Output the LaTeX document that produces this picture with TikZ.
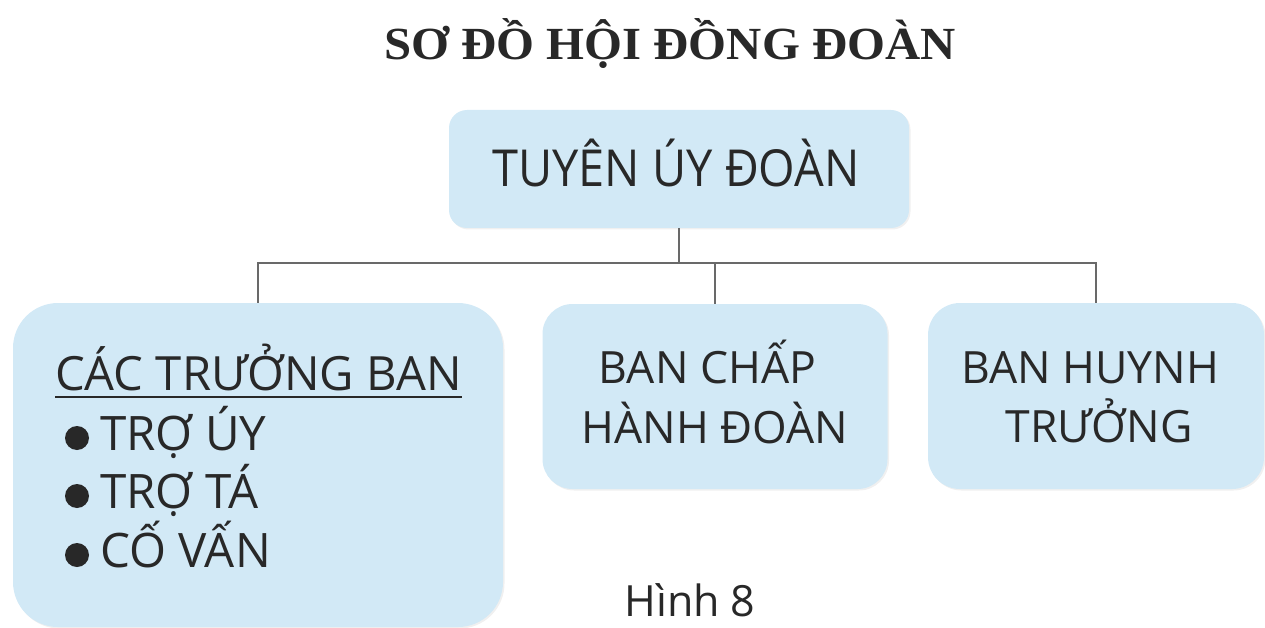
\documentclass[tikz,border=0pt]{standalone}
\usepackage{fontspec}
\setmainfont{Open Sans}
\newfontfamily\titlefont{Liberation Serif}
\usetikzlibrary{shadows}
\definecolor{boxfill}{RGB}{210,233,246}
\definecolor{txt}{RGB}{40,40,40}
\definecolor{lin}{RGB}{105,105,105}
\begin{document}
\begin{tikzpicture}[x=1pt,y=-1pt,
  box/.style={fill=boxfill, draw=none, inner sep=0pt,
    drop shadow={opacity=0.12, shadow xshift=1.5pt, shadow yshift=-1.5pt}},
  conn/.style={draw=lin, line width=1.8pt},
  lbl/.style={inner sep=0pt, text=txt, anchor=base},
  item/.style={inner sep=0pt, text=txt, anchor=base west},
  bul/.style={fill=txt}]
\useasboundingbox (0,0) rectangle (1265,628);

% title
\node[lbl] (title) at (670,60)
  {\titlefont\bfseries\fontsize{46}{50}\selectfont\scalebox{1.06}[1]{SƠ ĐỒ HỘI ĐỒNG ĐOÀN}};

% boxes
\node[box, minimum width=460pt, minimum height=118pt, rounded corners=18pt] (top) at (679,169) {};
\node[box, minimum width=490pt, minimum height=324pt, rounded corners=45pt] (left) at (258,465) {};
\node[box, minimum width=345pt, minimum height=185pt, rounded corners=30pt] (mid) at (715,396.5) {};
\node[box, minimum width=336pt, minimum height=186pt, rounded corners=32pt] (right) at (1096,396) {};

% connectors
\coordinate (bus) at (0,263);
\draw[conn] (top.south) -- (top.south |- bus);
\draw[conn] (left.north) -- (left.north |- bus) -- (right.north |- bus) -- (right.north);
\draw[conn] (mid.north) -- (mid.north |- bus);

% texts
\node[lbl] (toptext) at (676,187)
  {\fontsize{51}{60}\selectfont\scalebox{0.92}[1]{TUYÊN ÚY ĐOÀN}};

\node[lbl] (mid1) at (707.5,383) {\fontsize{44.5}{60}\selectfont BAN CHẤP};
\node[lbl] (mid2) at (715,443) {\fontsize{44.5}{60}\selectfont HÀNH ĐOÀN};

\node[lbl] (r1) at (1090,383) {\fontsize{44.5}{60}\selectfont BAN HUYNH};
\node[lbl] (r2) at (1099,442) {\fontsize{44.5}{60}\selectfont TRƯỞNG};

\node[item] (lhead) at (55,390) {\fontsize{47.2}{60}\selectfont CÁC TRƯỞNG BAN};
\draw[draw=txt, line width=2pt] ([yshift=-7pt]lhead.base west) -- ([yshift=-7pt]lhead.base east);
\node[item] (li1) at (100,450) {\fontsize{47.5}{60}\selectfont TRỢ ÚY};
\node[item] (li2) at (100,508) {\fontsize{47.5}{60}\selectfont TRỢ TÁ};
\node[item] (li3) at (100,567) {\fontsize{47.5}{60}\selectfont CỐ VẤN};
\fill[bul] (77,438) circle (12);
\fill[bul] (77,496) circle (12);
\fill[bul] (77,555) circle (12);

\node[lbl] (fig) at (690,616) {\fontsize{43}{50}\selectfont Hình 8};
\end{tikzpicture}
\end{document}
